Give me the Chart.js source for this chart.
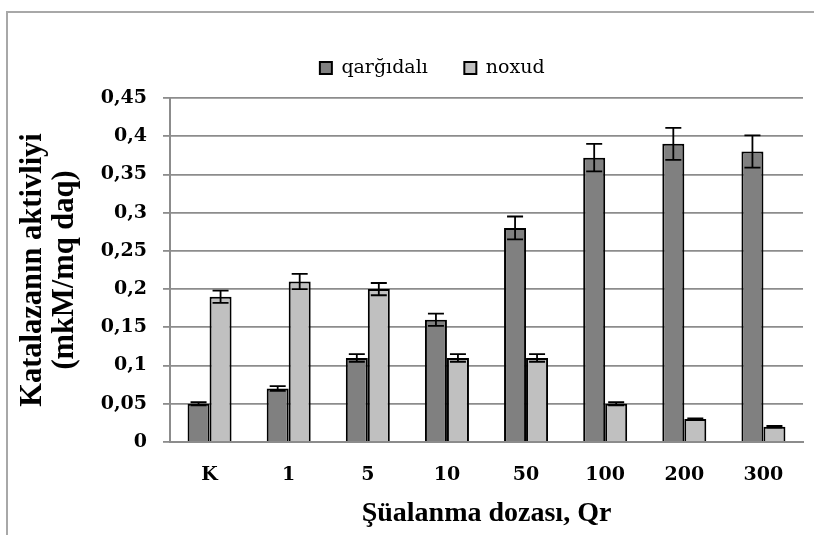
<!DOCTYPE html>
<html><head><meta charset="utf-8">
<script src="https://cdn.jsdelivr.net/npm/chart.js@4.4.1/dist/chart.umd.min.js"></script>
<style>html,body{margin:0;padding:0;background:#fff}canvas{display:block}</style>
</head><body>
<canvas id="c" width="814" height="535"></canvas>
<script>
const categories = ['K','1','5','10','50','100','200','300'];
const seriesNames = ['qarğıdalı','noxud'];
const qargidali = [0.05,0.07,0.11,0.16,0.28,0.372,0.39,0.38];
const noxud = [0.19,0.21,0.20,0.11,0.11,0.05,0.03,0.02];
const qargidaliErr = [0.002,0.003,0.005,0.008,0.015,0.018,0.021,0.021];
const noxudErr = [0.008,0.01,0.008,0.005,0.005,0.002,0.001,0.001];
const yTickLabels = ['0','0,05','0,1','0,15','0,2','0,25','0,3','0,35','0,4','0,45'];
const yTitle = ['Katalazanın aktivliyi','(mkM/mq daq)'];
const xTitle = 'Şüalanma dozası, Qr';

const frame = {
  id:'frame',
  beforeDraw(chart){
    const ctx = chart.ctx;
    ctx.save();
    ctx.fillStyle='#fff'; ctx.fillRect(0,0,chart.width,chart.height);
    ctx.strokeStyle='#a8a8a8'; ctx.lineWidth=2;
    ctx.beginPath(); ctx.moveTo(7,chart.height); ctx.lineTo(7,12); ctx.lineTo(chart.width,12); ctx.stroke();
    ctx.restore();
  }
};
const legendPlace = {
  id:'legendPlace',
  afterLayout(chart){
    const l = chart.legend;
    l.left += 28.25; l.right += 28.25; l.top -= 10.5; l.bottom -= 10.5;
  }
};
const errorBars = {
  id:'errorBars',
  afterDatasetsDraw(chart){
    const ctx = chart.ctx, ys = chart.scales.y;
    ctx.save(); ctx.strokeStyle='#000'; ctx.lineWidth=1.8;
    chart.data.datasets.forEach((ds,i)=>{
      const meta = chart.getDatasetMeta(i);
      meta.data.forEach((bar,j)=>{
        const v = ds.data[j], e = ds.errors[j];
        const x = bar.x, y1 = ys.getPixelForValue(v+e), y2 = ys.getPixelForValue(v-e);
        ctx.beginPath();
        ctx.moveTo(x,y1); ctx.lineTo(x,y2);
        ctx.moveTo(x-8,y1); ctx.lineTo(x+8,y1);
        ctx.moveTo(x-8,y2); ctx.lineTo(x+8,y2);
        ctx.stroke();
      });
    });
    ctx.restore();
  }
};

Chart.defaults.font.family = 'DejaVu Serif';
Chart.defaults.color = '#000';
new Chart(document.getElementById('c'), {
  type:'bar',
  data:{
    labels: categories,
    datasets:[
      {label: seriesNames[0], data: qargidali, errors: qargidaliErr, backgroundColor:'#808080', borderColor:'#000', borderWidth:2},
      {label: seriesNames[1], data: noxud, errors: noxudErr, backgroundColor:'#c0c0c0', borderColor:'#000', borderWidth:2}
    ]
  },
  options:{
    responsive:false, animation:false, devicePixelRatio:1,
    categoryPercentage:0.556, barPercentage:1,
    layout:{padding:{left:5,right:11,top:32.5,bottom:4.2}},
    plugins:{
      legend:{position:'top', labels:{font:{family:'DejaVu Serif',size:19}, boxWidth:12, boxHeight:12, padding:36.5, color:'#000'}},
      tooltip:{enabled:false}
    },
    scales:{
      x:{
        afterFit(s){ s.height = 88.8; },
        grid:{display:false, drawTicks:false, tickLength:0},
        border:{display:true, color:'#8c8c8c', width:2},
        ticks:{font:{family:'DejaVu Serif',size:19,weight:'bold'}, padding:21.6, autoSkip:false, maxRotation:0},
        title:{display:true, text:xTitle, font:{family:'Liberation Serif',size:28,weight:'bold'}, padding:{top:10.8,bottom:0}}
      },
      y:{
        min:0, max:0.45,
        afterFit(s){ s.width = 165; },
        grid:{color:'#8c8c8c', lineWidth:1.8, tickLength:7},
        border:{display:true, color:'#8c8c8c', width:2},
        ticks:{stepSize:0.05, padding:16, font:{family:'DejaVu Serif',size:19,weight:'bold'}, callback:(v,i)=>yTickLabels[i]},
        title:{display:true, text:yTitle, font:{family:'Liberation Serif',size:30.5,weight:'bold',lineHeight:1.05}, padding:{top:12,bottom:0}}
      }
    }
  },
  plugins:[frame, legendPlace, errorBars]
});
</script>
</body></html>
